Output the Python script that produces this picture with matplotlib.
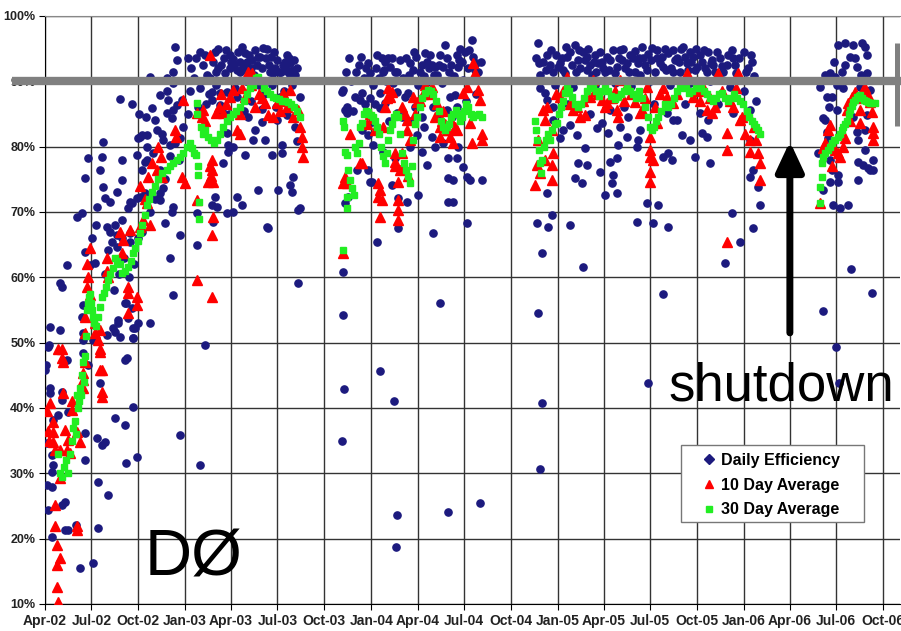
import numpy as np
import pandas as pd
import matplotlib.pyplot as plt
import matplotlib.transforms as mtransforms
from matplotlib.lines import Line2D
from matplotlib.patches import Rectangle

# day offsets counted from 1 Apr 2002, values in percent
daily = [
    # 2002 - 2003 run
    (0, 45.8), (2, 46.6), (10, 52.4), (8, 49.6), (10, 43.0), (10, 42.3), (16, 38.2), (4, 34.6),
    (14, 32.8), (16, 31.3), (14, 30.2), (4, 28.2), (14, 27.9), (6, 24.4), (14, 20.3), (29, 51.9),
    (26, 39.0), (33, 42.5), (33, 41.2), (33, 25.1), (39, 25.6), (39, 21.3), (45, 21.3), (43, 47.3),
    (45, 39.4), (61, 22.1), (69, 15.5), (73, 54.0), (75, 51.5), (75, 48.4), (78, 36.1), (78, 32.1),
    (94, 16.3), (75, 55.8), (84, 46.6), (94, 50.4), (102, 35.4), (104, 28.6), (104, 21.6), (108, 43.8),
    (112, 34.3), (118, 34.8), (124, 26.7), (122, 51.2), (137, 51.7), (137, 38.5), (143, 53.0), (157, 47.3),
    (157, 37.4), (159, 31.6), (159, 56.0), (163, 53.8), (173, 52.2), (173, 50.7), (173, 40.2), (181, 32.5),
    (206, 53.0), (265, 35.9), (304, 31.3), (314, 49.6),
    (114, 80.7), (84, 78.2), (112, 78.4), (151, 78.0), (108, 76.4), (78, 75.2), (151, 74.9), (114, 73.8),
    (141, 73.1), (118, 72.1), (128, 71.5), (167, 71.5), (163, 70.6), (102, 70.8), (73, 69.8), (63, 69.2),
    (186, 81.5), (200, 81.8), (190, 76.4), (200, 78.0), (186, 72.3), (151, 68.8), (122, 67.7), (137, 68.0),
    (128, 67.0), (141, 66.5), (151, 66.0), (167, 66.8), (182, 66.0), (167, 65.4), (131, 65.4), (124, 64.2),
    (141, 64.6), (78, 63.9), (43, 61.9), (88, 61.9), (98, 62.2), (29, 59.1), (33, 58.5), (157, 56.0),
    (82, 55.5), (171, 55.3), (143, 53.5), (133, 52.2), (177, 52.2), (147, 50.9), (173, 50.7), (75, 50.4),
    (6, 49.3), (182, 53.0), (161, 47.6),
    (255, 95.3), (259, 93.3), (304, 94.5), (314, 94.0), (363, 94.0), (392, 94.3), (412, 94.8), (428, 95.1),
    (418, 93.7), (475, 94.0), (396, 93.0), (383, 93.0), (330, 93.0), (339, 92.0), (353, 91.2), (363, 92.0),
    (377, 91.7), (383, 91.4), (455, 93.3), (481, 92.8), (487, 91.7), (481, 91.0), (447, 91.2), (441, 91.4),
    (251, 91.4), (206, 90.7), (239, 90.5), (251, 89.7), (324, 90.5), (304, 89.0), (328, 88.4), (343, 88.2),
    (357, 88.4), (377, 87.6), (461, 90.2), (461, 87.6), (500, 87.6), (226, 87.9), (241, 87.1), (269, 87.1),
    (259, 86.4), (210, 85.9), (251, 85.6), (328, 87.1), (343, 86.4), (455, 84.1), (426, 83.8), (398, 84.5),
    (412, 82.5), (432, 81.0), (408, 81.0), (357, 82.1), (239, 85.1), (249, 84.4), (216, 84.1), (220, 82.5),
    (190, 81.8), (182, 81.4), (200, 80.0), (232, 81.0), (245, 80.3), (265, 81.4), (359, 80.3),
    (369, 80.0), (359, 79.2), (392, 78.7), (465, 80.3), (465, 79.0), (445, 78.7), (494, 80.8), (196, 77.6),
    (181, 78.7), (349, 77.5), (418, 73.4), (487, 75.4), (481, 74.1), (485, 73.1), (334, 72.3), (377, 72.3),
    (387, 71.1), (337, 70.8), (328, 71.1), (357, 69.8), (369, 70.0), (500, 70.6), (251, 70.8), (232, 73.7),
    (226, 72.9), (249, 70.0), (226, 71.8), (235, 68.3), (330, 68.5), (436, 67.7), (181, 72.1), (196, 72.9),
    (171, 71.4), (148, 87.3), (457, 73.4), (496, 70.3), (438, 67.5), (496, 59.1), (298, 65.0), (251, 57.3),
    (245, 62.9), (265, 66.5), (298, 69.8),
    (280, 93.5), (286, 92.0), (292, 90.5), (296, 93.5), (310, 92.5), (318, 91.0), (334, 94.5), (345, 92.5),
    (351, 93.5), (365, 93.0), (371, 92.5), (379, 94.5), (388, 92.5), (400, 94.0), (404, 92.0), (416, 92.5),
    (422, 93.8), (433, 93.5), (440, 92.5), (451, 92.0), (459, 91.5), (467, 92.5), (471, 93.0), (477, 91.5),
    (491, 91.0), (322, 88.0), (336, 89.5), (373, 89.0), (394, 90.0), (420, 89.5), (430, 88.0), (445, 89.5),
    (469, 88.5), (484, 89.5), (300, 86.0), (316, 86.5), (347, 85.5), (361, 85.0), (390, 85.5), (426, 85.8),
    (453, 86.0), (475, 84.8), (490, 83.0), (404, 87.0),
    (335, 91.5), (340, 95.0), (355, 94.8), (368, 93.4), (386, 95.2), (395, 91.8), (406, 93.2), (410, 91.0),
    (425, 92.0), (435, 95.0), (443, 93.8), (449, 94.5), (463, 91.5), (473, 92.0), (479, 93.5), (489, 93.2),
    (495, 92.0),
    (92, 66.0), (100, 68.0), (118, 60.5), (135, 58.0), (145, 60.5), (155, 63.0), (165, 60.0), (175, 62.0),
    (190, 67.0), (205, 70.0), (215, 72.0), (225, 76.5), (235, 75.0), (245, 78.5), (255, 80.5), (270, 83.0),
    (280, 85.0), (262, 78.0), (212, 79.0), (198, 84.5), (185, 85.0), (170, 86.5), (230, 82.0), (240, 88.5),
    (285, 88.5),
    # 2003 - 2004 run
    (634, 92.8), (638, 91.2), (667, 93.0), (673, 93.6), (677, 92.2), (663, 91.4), (687, 91.4), (722, 91.7),
    (736, 91.4), (746, 94.3), (749, 93.0), (759, 92.5), (765, 92.2), (785, 95.6), (781, 92.2), (808, 94.0),
    (818, 93.0), (838, 96.3), (840, 93.7), (810, 92.2), (850, 91.4), (585, 88.7), (608, 87.6), (622, 88.2),
    (638, 87.4), (657, 88.2), (691, 88.4), (706, 87.6), (712, 88.2), (749, 89.9), (779, 89.7),
    (795, 87.6), (804, 87.9), (820, 90.2), (589, 85.6), (618, 87.1), (657, 85.9), (667, 86.7), (691, 85.1),
    (726, 86.1), (740, 84.5), (761, 86.1), (789, 85.6), (808, 86.1), (642, 83.8), (622, 82.5), (634, 81.8),
    (644, 80.3), (663, 79.2), (730, 81.8), (759, 81.5), (781, 80.5), (765, 80.0), (810, 80.0), (687, 78.3),
    (716, 80.0), (612, 76.4), (634, 76.4), (642, 74.6), (681, 74.1), (749, 77.2), (791, 78.3), (820, 76.9),
    (828, 75.4), (791, 75.2), (801, 74.9), (834, 74.9), (857, 74.9), (791, 71.5), (801, 71.5), (732, 72.6),
    (693, 72.1), (710, 71.5), (828, 68.3),
    (583, 88.4), (593, 86.0), (593, 85.1), (589, 71.4), (594, 72.3), (638, 74.6), (651, 65.4), (693, 67.5),
    (740, 79.2), (761, 66.8), (775, 56.1), (808, 78.2),
    (585, 60.8), (585, 54.2), (587, 42.9), (583, 35.0), (657, 45.7), (685, 41.1), (691, 23.6), (689, 18.7),
    (791, 24.1), (853, 25.4),
    (600, 90.0), (616, 92.5), (626, 90.5), (644, 89.5), (649, 92.0), (655, 90.5), (661, 93.5), (669, 90.0),
    (683, 89.8), (697, 93.2), (702, 90.5), (716, 92.8), (728, 93.8), (732, 89.5), (744, 90.8), (753, 92.0),
    (769, 91.0), (775, 94.0), (797, 92.5), (803, 90.8), (814, 95.0), (824, 94.5), (830, 92.0), (846, 92.8),
    (604, 85.5), (628, 86.5), (648, 86.5), (675, 84.0), (700, 84.5), (718, 84.0), (744, 83.0), (771, 84.5),
    (799, 84.5), (826, 87.0), (846, 88.0),
    (590, 91.5), (596, 93.5), (610, 91.5), (620, 93.8), (630, 92.0), (652, 94.0), (665, 91.8), (680, 93.5),
    (690, 91.5), (708, 93.5), (714, 91.0), (724, 94.5), (739, 92.5), (756, 94.0), (763, 91.0), (772, 92.5),
    (788, 93.5), (793, 91.5), (812, 93.2), (832, 94.8), (843, 91.8), (855, 93.0),
    # 2004 - 2006 run
    (975, 40.8), (971, 30.7), (967, 54.5), (1183, 43.8),
    (967, 95.8), (1040, 95.6), (985, 94.0), (1024, 93.7), (1010, 92.8), (1046, 93.3), (1063, 93.7), (1079, 94.0),
    (1085, 92.8), (1109, 93.3), (1122, 92.2), (1132, 93.3), (1148, 94.0), (1163, 92.8), (1173, 93.6), (1191, 95.1),
    (1201, 93.6), (1213, 92.2), (1222, 94.3), (1240, 93.6), (1252, 95.3), (1260, 92.8), (1271, 93.7), (1289, 93.0),
    (1309, 93.3), (1311, 92.5), (1348, 94.8), (1350, 93.6), (1387, 93.0), (1016, 91.7), (1063, 91.7), (1095, 92.0),
    (1158, 91.4), (1232, 91.4), (1275, 91.7), (971, 91.0), (997, 91.4),
    (971, 89.0), (981, 88.2), (997, 86.1), (1109, 85.6), (1093, 83.6), (1083, 82.9), (1044, 81.8), (1030, 83.3),
    (1105, 82.1), (1128, 83.0), (1144, 84.5), (1142, 81.5), (1163, 81.0), (1162, 80.0), (1167, 82.5), (1220, 85.1),
    (1240, 84.1), (1250, 81.8), (1265, 81.0), (1275, 78.4), (1289, 82.1), (1299, 81.5), (1305, 77.5), (1213, 78.4),
    (1222, 79.0), (1230, 78.0), (1232, 84.1), (1301, 84.1), (1285, 85.1), (1350, 85.1), (1383, 85.6), (1383, 81.0),
    (1383, 75.4), (1389, 76.4), (997, 84.1), (1016, 82.5), (1010, 81.4), (1059, 79.8), (1046, 77.5), (1063, 77.2),
    (1040, 75.2), (1054, 74.4), (1089, 76.1), (1109, 77.6), (1122, 78.3), (1114, 75.7), (1112, 74.4), (1122, 72.9),
    (1099, 72.6), (1124, 80.3), (985, 87.1),
    (985, 72.9), (995, 69.5), (965, 68.3), (987, 67.7), (1030, 68.0), (1181, 71.4), (1203, 71.1), (1162, 68.5),
    (1193, 68.3), (1222, 67.7), (1348, 69.8), (1389, 67.5), (1364, 65.4), (1403, 71.1), (1399, 73.8), (1334, 62.2),
    (1056, 61.6), (1213, 57.4), (975, 63.7),
    (977, 93.0), (991, 92.5), (1003, 94.0), (1020, 91.3), (1030, 94.5), (1050, 92.0), (1056, 94.5), (1069, 92.5),
    (1073, 91.0), (1089, 94.5), (1099, 91.5), (1103, 93.8), (1114, 94.8), (1118, 91.2), (1128, 94.8), (1138, 92.0),
    (1154, 93.5), (1167, 91.0), (1177, 92.5), (1183, 94.2), (1197, 91.5), (1207, 92.8), (1216, 95.0), (1228, 92.0),
    (1236, 93.2), (1246, 91.5), (1256, 93.8), (1265, 94.5), (1279, 92.2), (1285, 94.0), (1295, 92.0), (1301, 94.5),
    (1315, 91.5), (1324, 93.5), (1330, 91.5), (1338, 92.5), (1356, 91.2), (1371, 94.5), (1379, 92.0), (1391, 90.8),
    (1001, 89.5), (1036, 89.2), (1079, 89.5), (1118, 89.8), (1150, 89.3), (1187, 90.0), (1226, 89.5), (1265, 89.8),
    (1305, 90.0), (1344, 89.2), (1026, 86.5), (1069, 85.0), (1135, 86.0), (1195, 86.5), (1256, 86.5), (1320, 86.5),
    (1371, 88.5), (1395, 87.0),
    (963, 93.5), (969, 92.8), (983, 91.8), (993, 94.8), (1007, 92.2), (1014, 93.6), (1022, 95.2), (1034, 92.5),
    (1042, 91.5), (1048, 94.8), (1060, 93.2), (1066, 95.0), (1077, 93.0), (1081, 91.5), (1093, 93.0), (1107, 91.8),
    (1125, 93.6), (1134, 95.0), (1141, 92.8), (1146, 91.5), (1157, 94.6), (1165, 93.5), (1170, 95.2), (1180, 91.8),
    (1188, 93.2), (1200, 94.8), (1211, 93.8), (1219, 91.8), (1231, 94.8), (1244, 93.0), (1248, 95.0), (1262, 91.8),
    (1268, 93.0), (1276, 95.0), (1292, 94.8), (1298, 91.5), (1306, 92.8), (1318, 94.5), (1327, 92.3), (1340, 94.0),
    (1353, 92.5), (1362, 93.5), (1375, 91.5), (1384, 94.0),
    # 2006 run
    (1556, 95.6), (1570, 95.8), (1585, 95.6), (1603, 95.8), (1609, 95.3), (1579, 93.7), (1613, 94.0), (1570, 92.5),
    (1564, 91.4), (1593, 92.2), (1613, 91.2), (1540, 91.2), (1530, 91.0), (1550, 90.7), (1521, 89.1), (1554, 89.4),
    (1534, 87.6), (1544, 87.6), (1599, 89.1), (1619, 88.7), (1554, 85.6), (1526, 84.4), (1530, 84.1), (1613, 84.8),
    (1593, 82.2), (1609, 82.5), (1595, 81.0), (1534, 82.2), (1536, 81.4), (1517, 79.0), (1540, 78.0), (1609, 79.5),
    (1595, 77.7), (1605, 77.2), (1625, 78.0), (1615, 76.8), (1619, 76.4), (1625, 76.4), (1544, 76.4), (1556, 75.7),
    (1556, 74.6), (1540, 74.6), (1595, 74.9), (1526, 73.4), (1546, 71.1), (1560, 70.6), (1575, 71.1), (1581, 61.3),
    (1623, 57.6), (1526, 54.8), (1552, 49.3), (1558, 43.8),
    (1548, 93.0), (1589, 93.5), (1566, 89.0), (1601, 91.0), (1538, 86.0), (1585, 84.5),
]

avg10 = [
    (35, 47.0), (75, 45.4), (112, 45.8), (112, 42.4), (112, 41.7), (10, 40.7), (35, 42.3), (53, 41.0),
    (53, 39.7), (16, 37.8), (16, 36.3), (16, 34.8), (39, 36.6), (43, 33.6), (29, 33.6), (20, 33.6),
    (63, 36.3), (69, 34.8), (29, 29.3), (20, 25.2), (20, 22.0), (63, 22.0), (63, 21.3), (24, 19.0),
    (29, 17.0), (24, 16.0), (24, 12.6), (26, 10.3), (4, 39.5), (6, 36.5), (8, 35.0),
    (26, 49.0), (33, 47.6), (45, 35.1), (49, 33.1), (75, 43.0), (75, 44.3), (78, 47.0), (78, 51.5),
    (108, 45.8), (108, 51.9), (108, 48.6),
    (88, 64.5), (82, 62.0), (84, 60.0), (82, 58.5), (88, 57.3), (78, 54.0), (98, 53.0), (98, 51.5),
    (104, 50.4), (108, 49.0), (33, 49.0), (122, 63.0), (122, 61.0), (124, 60.0), (147, 67.0), (153, 65.7),
    (151, 63.7), (167, 67.2), (163, 58.5), (163, 57.6), (163, 54.5), (181, 57.0), (181, 55.7), (186, 67.7),
    (192, 68.8), (200, 71.4), (202, 75.4),
    (186, 74.0), (196, 72.0), (206, 68.0), (210, 77.5), (220, 76.5), (230, 75.4), (222, 80.0),
    (228, 78.4), (255, 82.5), (257, 81.5), (271, 87.1), (269, 75.4), (275, 74.4), (308, 84.5), (310, 85.6),
    (314, 84.0), (324, 94.0), (328, 78.0), (328, 76.4), (330, 74.6), (320, 74.6), (330, 69.2), (336, 85.1),
    (341, 86.0), (349, 85.1), (363, 87.6), (369, 88.7), (377, 82.5), (383, 82.0), (383, 85.0), (392, 87.6),
    (398, 91.4), (406, 91.2), (412, 86.0), (432, 86.7), (438, 84.8), (447, 84.5), (455, 86.7), (467, 88.2),
    (475, 86.0), (481, 88.7), (487, 84.5), (496, 85.6), (500, 83.0), (504, 81.5), (504, 80.0), (506, 78.4),
    (298, 71.8), (298, 59.6), (328, 57.0), (324, 77.0), (326, 75.5), (328, 66.5), (298, 85.1),
    (345, 88.0), (355, 86.5), (387, 89.0), (404, 89.5), (420, 88.0), (426, 87.5), (461, 85.5), (469, 87.0),
    (598, 82.0), (589, 75.4), (593, 74.4), (622, 77.5), (647, 82.5), (644, 84.4), (673, 89.0), (681, 88.4),
    (677, 87.6), (653, 74.4), (657, 73.4), (653, 72.3), (661, 71.8), (693, 74.6), (697, 76.4), (693, 71.8),
    (693, 70.3), (693, 68.8), (687, 77.6), (710, 84.1), (710, 82.5), (716, 81.0), (722, 87.6), (730, 86.8),
    (759, 89.1), (765, 84.5), (775, 83.0), (775, 81.5), (789, 82.5), (795, 81.5), (820, 88.2), (828, 89.1),
    (840, 92.8), (844, 91.2), (850, 88.7), (853, 87.1), (834, 83.6), (838, 80.5), (857, 81.0), (857, 82.0),
    (808, 82.5), (801, 80.5), (585, 74.4), (618, 77.5), (657, 69.2), (687, 79.0), (687, 77.0), (585, 63.7),
    (779, 84.0), (785, 83.5), (791, 82.5), (797, 84.0), (804, 83.0), (781, 85.5), (769, 86.5), (706, 85.0),
    (700, 86.0), (726, 85.0), (736, 87.0), (742, 88.0), (746, 89.5), (753, 88.0), (663, 83.0), (667, 86.0),
    (671, 87.5), (638, 85.0), (632, 83.5), (700, 79.0), (704, 77.0), (712, 75.5),
    (961, 74.1), (965, 77.2), (967, 81.0), (977, 85.6), (981, 84.1), (995, 82.5), (995, 77.2), (995, 74.9),
    (997, 79.0), (1010, 87.6), (1024, 90.7), (1036, 85.6), (1050, 84.5), (1059, 84.8), (1069, 87.6), (1075, 90.2),
    (1093, 87.1), (1103, 86.7), (1122, 85.6), (1124, 84.5), (1128, 90.2), (1142, 89.4), (1158, 86.8), (1167, 85.1),
    (1181, 89.1), (1187, 81.5), (1187, 79.5), (1187, 76.1), (1187, 74.6), (1193, 78.0), (1201, 83.6), (1220, 87.6),
    (1232, 86.7), (1260, 91.2), (1271, 87.6), (1291, 89.1), (1299, 85.6), (1309, 85.1), (1320, 91.2), (1338, 82.1),
    (1338, 79.5), (1360, 91.2), (1364, 84.1), (1383, 81.0), (1399, 79.0), (1338, 65.4),
    (1187, 78.4), (1367, 84.5), (1373, 82.0), (1383, 79.2), (1403, 77.5), (1403, 74.9), (1171, 85.6),
    (985, 86.0), (1003, 88.0), (1016, 88.5), (1030, 86.5), (1044, 86.0), (1056, 87.0), (1079, 88.5), (1085, 88.0),
    (1099, 86.0), (1112, 87.5), (1118, 88.5), (1135, 87.0), (1150, 88.0), (1177, 87.5), (1197, 86.0), (1207, 88.0),
    (1213, 89.0), (1240, 88.0), (1250, 89.5), (1281, 88.5), (1285, 87.0), (1305, 87.5), (1315, 86.0), (1328, 88.5),
    (1344, 87.0), (1350, 86.0), (1356, 89.0), (1378, 85.0), (1391, 83.0), (1395, 81.0), (971, 76.0), (981, 78.0),
    (1521, 71.4), (1530, 80.5), (1536, 82.5), (1540, 83.3), (1556, 79.0), (1560, 78.4), (1566, 80.0), (1570, 81.3),
    (1574, 85.6), (1583, 87.6), (1589, 88.4), (1599, 85.6), (1605, 88.7), (1615, 87.9), (1619, 86.8), (1623, 85.3),
    (1625, 83.0), (1625, 82.1), (1625, 81.0), (1599, 83.6), (1575, 86.7), (1526, 79.8), (1544, 77.0), (1550, 79.5),
    (1595, 87.5), (1609, 89.0), (1579, 84.0),
]

avg30 = [
    (26, 33.0), (29, 30.0), (33, 29.5), (37, 31.0), (41, 32.0), (45, 30.0), (49, 33.0), (53, 35.0),
    (55, 37.0), (59, 38.0), (61, 36.0), (63, 42.0), (65, 40.0), (67, 41.0), (69, 43.0), (71, 42.0),
    (73, 45.0), (75, 47.0), (77, 44.0), (78, 48.0), (80, 51.0), (82, 55.0), (84, 56.0), (86, 57.0),
    (88, 57.5), (90, 56.0), (92, 55.0), (94, 54.0), (96, 53.0), (100, 52.5), (104, 54.0), (108, 55.5),
    (112, 57.0), (116, 57.6), (120, 58.5), (124, 59.6), (128, 60.5), (133, 61.5), (137, 63.0), (141, 62.5),
    (147, 62.0), (151, 60.7), (157, 61.0), (163, 61.6), (169, 62.5), (173, 63.7), (177, 64.5), (182, 65.5),
    (186, 66.8), (190, 68.0), (196, 69.5), (200, 71.0), (204, 72.0), (210, 73.0), (216, 74.0), (222, 75.0),
    (230, 76.0), (239, 76.4), (245, 77.0), (251, 77.5), (259, 78.0), (265, 78.4), (271, 79.0), (279, 80.0),
    (284, 80.5), (288, 79.8), (292, 79.0), (296, 78.7),
    (298, 86.7), (299, 85.0), (300, 77.0), (301, 75.7), (302, 71.5), (302, 69.0),
    (306, 83.0), (310, 82.0), (314, 82.5), (320, 81.5), (326, 81.0), (332, 80.5), (338, 81.0), (344, 82.0),
    (350, 83.0), (357, 84.0), (363, 84.5), (369, 85.0), (375, 85.5), (383, 86.0), (390, 87.0), (396, 88.0),
    (402, 89.0), (408, 89.5), (414, 90.5), (418, 90.7), (424, 90.0), (430, 89.0), (436, 88.5), (441, 88.0),
    (447, 87.6), (453, 87.5), (459, 87.3), (465, 87.0), (471, 87.0), (477, 86.8), (483, 86.5), (489, 86.0),
    (494, 85.5), (500, 84.5),
    (585, 64.2), (585, 84.0), (587, 83.0), (589, 79.2), (593, 78.7), (595, 76.4), (598, 74.9), (602, 73.7),
    (606, 72.6), (593, 70.6), (593, 72.3),
    (608, 80.0), (612, 79.0), (616, 80.5), (618, 83.0), (622, 83.6), (626, 85.0), (630, 85.5), (634, 85.3),
    (640, 84.8), (644, 84.5), (648, 84.0), (651, 83.0), (655, 82.0), (659, 80.0), (663, 78.5), (667, 77.5),
    (671, 79.0), (673, 81.0), (677, 82.5), (681, 83.5), (685, 84.5), (689, 85.0), (693, 84.5), (697, 82.0),
    (700, 79.0), (704, 77.5), (708, 76.5), (712, 75.5), (716, 74.5), (720, 77.0), (722, 81.0), (726, 83.5),
    (730, 84.5), (736, 86.0), (740, 87.5), (746, 88.2), (751, 88.7), (757, 88.5), (761, 88.0), (767, 87.0),
    (773, 85.5), (777, 84.0), (781, 83.0), (785, 82.5), (789, 83.0), (793, 83.5), (797, 84.5), (801, 85.0),
    (806, 85.6), (810, 85.0), (814, 84.0), (818, 84.5), (822, 85.5), (826, 86.5), (830, 86.0), (836, 85.0),
    (840, 84.5), (846, 84.8), (852, 85.0), (857, 84.5),
    (961, 84.0), (963, 82.5), (965, 81.0), (969, 79.5), (971, 77.5), (973, 76.0), (975, 78.0), (979, 80.0),
    (983, 81.0), (987, 82.0), (991, 81.0), (995, 82.5), (1001, 83.5), (1005, 83.6), (1008, 85.0), (1012, 86.0),
    (1016, 87.0), (1020, 88.2), (1024, 89.0), (1028, 88.5), (1034, 87.6), (1040, 86.5), (1046, 86.0), (1052, 86.5),
    (1058, 87.5), (1063, 88.5), (1069, 89.5), (1075, 89.0), (1081, 88.5), (1087, 87.8), (1093, 88.5), (1099, 89.0),
    (1105, 88.5), (1111, 87.8), (1118, 87.3), (1124, 87.6), (1130, 88.0), (1136, 88.5), (1142, 89.0), (1148, 88.5),
    (1154, 88.0), (1160, 87.5), (1165, 88.5), (1171, 87.5), (1177, 86.0), (1183, 84.5), (1187, 83.0), (1191, 82.5),
    (1195, 83.0), (1199, 84.0), (1203, 84.5), (1209, 85.5), (1216, 86.5), (1222, 86.0), (1228, 86.5), (1234, 87.5),
    (1240, 88.5), (1246, 89.0), (1252, 89.5), (1258, 89.0), (1264, 88.2), (1270, 88.5), (1276, 89.0), (1281, 89.3),
    (1287, 89.0), (1293, 88.5), (1299, 88.0), (1305, 87.5), (1311, 87.0), (1316, 87.5), (1322, 88.0), (1328, 88.2),
    (1334, 87.5), (1340, 87.0), (1346, 87.5), (1352, 88.0), (1358, 87.5), (1364, 87.0), (1370, 86.5), (1376, 85.5),
    (1381, 84.5), (1387, 84.0), (1391, 83.5), (1395, 83.0), (1399, 82.5), (1403, 82.0),
    (1521, 71.4), (1521, 73.8), (1524, 75.4), (1524, 77.5), (1526, 78.4), (1530, 79.0), (1536, 79.5), (1540, 80.0),
    (1544, 80.5), (1548, 81.0), (1550, 81.0), (1556, 81.5), (1560, 82.0), (1564, 82.5), (1566, 83.0), (1570, 83.5),
    (1574, 84.0), (1577, 85.0), (1579, 85.6), (1583, 86.3), (1585, 86.8), (1589, 87.2), (1593, 87.6), (1597, 87.8),
    (1599, 87.9), (1603, 87.5), (1607, 87.2), (1611, 87.0), (1615, 86.8), (1619, 86.7), (1623, 86.7), (1627, 86.7),
]

start = np.datetime64('2002-04-01')


def to_xy(pairs):
    arr = np.array(pairs, dtype=float)
    return start + arr[:, 0].astype(int).astype('timedelta64[D]'), arr[:, 1]


fig = plt.figure(figsize=(9.01, 6.31), dpi=100)
ax = fig.add_axes([45 / 901, 1 - 604 / 631, 855 / 901, 588 / 631])

x, y = to_xy(daily)
ax.plot(x, y, ls='none', marker='o', ms=5.2, color='#1c1a7e', zorder=3)
x, y = to_xy(avg10)
ax.plot(x, y, ls='none', marker='^', ms=6.5, color='#ff0000', mec='#ff0000', zorder=4)
x, y = to_xy(avg30)
ax.plot(x, y, ls='none', marker='s', ms=5, color='#22ee22', mec='#22ee22', zorder=5)

ax.set_xlim(start, start + np.timedelta64(1677, 'D'))
ax.set_ylim(10, 100)
ticks = pd.date_range('2002-04-01', '2006-10-01', freq='3MS')
ax.set_xticks(ticks)
ax.set_xticklabels([t.strftime('%b-%y') for t in ticks])
ax.set_yticks(np.arange(10, 101, 10))
ax.set_yticklabels([f'{v}%' for v in range(10, 101, 10)])

ax.grid(True, color='#333333', lw=1)
ax.set_axisbelow(True)
for side in ['left', 'bottom']:
    ax.spines[side].set_color('black')
ax.spines['top'].set_color('#888888')
ax.spines['right'].set_visible(False)
ax.tick_params(direction='out', length=4, color='black', pad=3)
for lab in ax.get_xticklabels():
    lab.set_fontfamily('Liberation Sans')
    lab.set_fontweight('bold')
    lab.set_fontsize(10)
    lab.set_color('#222222')
for lab in ax.get_yticklabels():
    lab.set_fontfamily('Liberation Sans')
    lab.set_fontweight('bold')
    lab.set_fontsize(9)
    lab.set_color('#222222')

# 90% target line runs past both edges of the plot
trans = mtransforms.blended_transform_factory(ax.transAxes, ax.transData)
ax.plot([-0.039, 1.01], [90, 90], transform=trans, color='#808080', lw=6,
        solid_capstyle='butt', clip_on=False, zorder=6)
fig.add_artist(Line2D([897 / 901, 897 / 901], [1 - 43 / 631, 1 - 126 / 631],
                      color='#808080', lw=3.6, solid_capstyle='butt'))

shutdown_day = start + np.timedelta64(1461, 'D')
ax.annotate('', xy=(shutdown_day, 80.8), xytext=(shutdown_day, 51.5),
            arrowprops=dict(arrowstyle='-|>,head_width=0.42,head_length=0.9',
                            lw=5, color='black', mutation_scale=20,
                            shrinkA=0, shrinkB=0), zorder=7)
ax.text(start + np.timedelta64(1444, 'D'), 41.2, 'shutdown', fontsize=38,
        family='Liberation Sans', ha='center', va='baseline', zorder=7)
ax.text(start + np.timedelta64(196, 'D'), 14.4, 'DØ', fontsize=47,
        family='Liberation Sans', ha='left', va='baseline', zorder=7)

# legend box with Excel-style wide right margin
fig.add_artist(Rectangle((681 / 901, 1 - 522 / 631), 183 / 901, 77 / 631,
                         transform=fig.transFigure, facecolor='white',
                         edgecolor='#777777', lw=1, zorder=8))
handles = [
    Line2D([], [], ls='none', marker='D', ms=5, color='#1c1a7e'),
    Line2D([], [], ls='none', marker='^', ms=6, color='#ff0000'),
    Line2D([], [], ls='none', marker='s', ms=4.5, color='#22ee22'),
]
leg = fig.legend(handles, ['Daily Efficiency', '10 Day Average', '30 Day Average'],
                 loc='upper left', bbox_to_anchor=(703 / 901, 1 - 453 / 631),
                 frameon=False, handlelength=0.8, handletextpad=0.35,
                 labelspacing=0.6, borderpad=0, borderaxespad=0,
                 prop={'family': 'Liberation Sans', 'weight': 'bold', 'size': 11.5})
leg.set_zorder(9)

fig.savefig('out.png', dpi=100)
